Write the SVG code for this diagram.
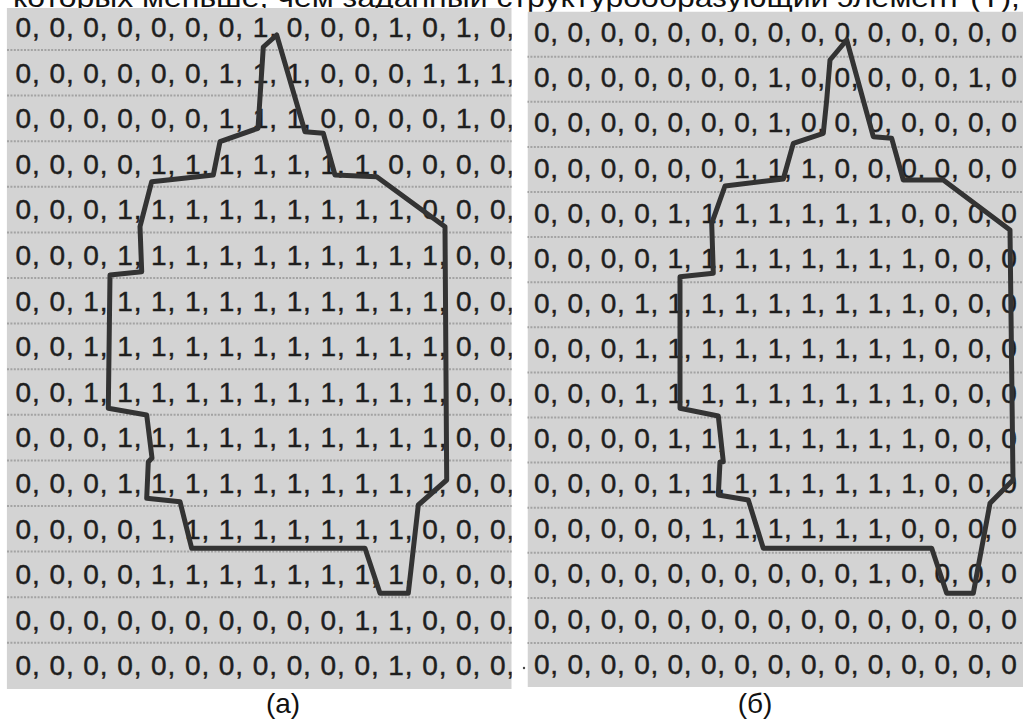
<svg xmlns="http://www.w3.org/2000/svg" width="1023" height="722" viewBox="0 0 1023 722">
<style>
.bg{fill:#d3d3d3}
.grid line{stroke:#a3a3a3;stroke-width:2;stroke-dasharray:2 1.4}
.num{font-family:"Liberation Sans",Arial,sans-serif;font-size:28px;fill:#1e1e1e;stroke:#1e1e1e;stroke-width:0.45}
.numL{letter-spacing:0.92px}
.numR{letter-spacing:0.75px}
.outline{fill:none;stroke:#333;stroke-width:5;stroke-linejoin:round;stroke-linecap:round}
.label{font-family:"Liberation Sans",Arial,sans-serif;font-size:28px;fill:#111}
</style>
<defs>
<clipPath id="clipL"><rect x="6.7" y="8" width="505" height="681"/></clipPath>
<clipPath id="clipR"><rect x="527.5" y="11.5" width="495.5" height="675.5"/></clipPath>
</defs>
<rect width="1023" height="722" fill="#fff"/>
<text class="label" x="13" y="7" textLength="1007" lengthAdjust="spacingAndGlyphs">которых меньше, чем заданный структурообразующий элемент (Т),</text>

<g id="panel-a" clip-path="url(#clipL)">
<rect class="bg" x="6.7" y="8" width="505" height="681"/>
<g class="grid">
<line x1="7" y1="50" x2="512" y2="50"/>
<line x1="7" y1="95.6" x2="512" y2="95.6"/>
<line x1="7" y1="141.2" x2="512" y2="141.2"/>
<line x1="7" y1="186.8" x2="512" y2="186.8"/>
<line x1="7" y1="232.4" x2="512" y2="232.4"/>
<line x1="7" y1="278" x2="512" y2="278"/>
<line x1="7" y1="323.6" x2="512" y2="323.6"/>
<line x1="7" y1="369.2" x2="512" y2="369.2"/>
<line x1="7" y1="414.8" x2="512" y2="414.8"/>
<line x1="7" y1="460.4" x2="512" y2="460.4"/>
<line x1="7" y1="506" x2="512" y2="506"/>
<line x1="7" y1="551.6" x2="512" y2="551.6"/>
<line x1="7" y1="597.2" x2="512" y2="597.2"/>
<line x1="7" y1="642.8" x2="512" y2="642.8"/>
</g>
<g class="num numL">
<text x="15.5" y="36.9">0, 0, 0, 0, 0, 0, 0, 1, 0, 0, 0, 1, 0, 1, 0, 0</text>
<text x="15.5" y="82.5">0, 0, 0, 0, 0, 0, 1, 1, 1, 0, 0, 0, 1, 1, 1, 0</text>
<text x="15.5" y="128.1">0, 0, 0, 0, 0, 0, 1, 1, 1, 0, 0, 0, 0, 1, 0, 0</text>
<text x="15.5" y="173.7">0, 0, 0, 0, 1, 1, 1, 1, 1, 1, 1, 0, 0, 0, 0, 0</text>
<text x="15.5" y="219.3">0, 0, 0, 1, 1, 1, 1, 1, 1, 1, 1, 1, 0, 0, 0, 0</text>
<text x="15.5" y="264.9">0, 0, 0, 1, 1, 1, 1, 1, 1, 1, 1, 1, 1, 0, 0, 0</text>
<text x="15.5" y="310.5">0, 0, 1, 1, 1, 1, 1, 1, 1, 1, 1, 1, 1, 0, 0, 0</text>
<text x="15.5" y="356.1">0, 0, 1, 1, 1, 1, 1, 1, 1, 1, 1, 1, 1, 0, 0, 0</text>
<text x="15.5" y="401.7">0, 0, 1, 1, 1, 1, 1, 1, 1, 1, 1, 1, 1, 0, 0, 0</text>
<text x="15.5" y="447.3">0, 0, 0, 1, 1, 1, 1, 1, 1, 1, 1, 1, 1, 0, 0, 0</text>
<text x="15.5" y="492.9">0, 0, 0, 1, 1, 1, 1, 1, 1, 1, 1, 1, 1, 0, 0, 0</text>
<text x="15.5" y="538.5">0, 0, 0, 0, 1, 1, 1, 1, 1, 1, 1, 1, 0, 0, 0, 0</text>
<text x="15.5" y="584.1">0, 0, 0, 0, 1, 1, 1, 1, 1, 1, 1, 1, 0, 0, 0, 0</text>
<text x="15.5" y="629.7">0, 0, 0, 0, 0, 0, 0, 0, 0, 0, 1, 1, 0, 0, 0, 0</text>
<text x="15.5" y="675.3">0, 0, 0, 0, 0, 0, 0, 0, 0, 0, 0, 1, 0, 0, 0, 0</text>
</g>
<polygon class="outline" points="276.7,35 305,131.7 323.3,133.3 335,175 376.7,176.7 445,226.7 446.7,480 418.3,505 408.3,593.3 380,593.3 365,548.3 191.7,548.3 180,501.7 146.7,498.3 148.3,462 152,458 146.7,415 108.3,408.3 110,275 141.7,271.7 140,226.7 151.7,181.7 213.3,175 220,141.7 258,128.3 263.3,47"/>
</g>

<g id="panel-b" clip-path="url(#clipR)">
<rect class="bg" x="527.5" y="11.5" width="495.5" height="675.5"/>
<g class="grid">
<line x1="527" y1="56.7" x2="1023" y2="56.7"/>
<line x1="527" y1="101.8" x2="1023" y2="101.8"/>
<line x1="527" y1="146.9" x2="1023" y2="146.9"/>
<line x1="527" y1="192" x2="1023" y2="192"/>
<line x1="527" y1="237.1" x2="1023" y2="237.1"/>
<line x1="527" y1="282.2" x2="1023" y2="282.2"/>
<line x1="527" y1="327.3" x2="1023" y2="327.3"/>
<line x1="527" y1="372.4" x2="1023" y2="372.4"/>
<line x1="527" y1="417.5" x2="1023" y2="417.5"/>
<line x1="527" y1="462.6" x2="1023" y2="462.6"/>
<line x1="527" y1="507.7" x2="1023" y2="507.7"/>
<line x1="527" y1="552.8" x2="1023" y2="552.8"/>
<line x1="527" y1="597.9" x2="1023" y2="597.9"/>
<line x1="527" y1="643" x2="1023" y2="643"/>
</g>
<g class="num numR">
<text x="534" y="42.2">0, 0, 0, 0, 0, 0, 0, 0, 0, 0, 0, 0, 0, 0, 0</text>
<text x="534" y="87.3">0, 0, 0, 0, 0, 0, 0, 1, 0, 0, 0, 0, 0, 1, 0</text>
<text x="534" y="132.4">0, 0, 0, 0, 0, 0, 0, 1, 0, 0, 0, 0, 0, 0, 0</text>
<text x="534" y="177.5">0, 0, 0, 0, 0, 0, 1, 1, 1, 0, 0, 0, 0, 0, 0</text>
<text x="534" y="222.6">0, 0, 0, 0, 1, 1, 1, 1, 1, 1, 1, 0, 0, 0, 0</text>
<text x="534" y="267.7">0, 0, 0, 0, 1, 1, 1, 1, 1, 1, 1, 1, 0, 0, 0</text>
<text x="534" y="312.8">0, 0, 0, 1, 1, 1, 1, 1, 1, 1, 1, 1, 0, 0, 0</text>
<text x="534" y="357.9">0, 0, 0, 1, 1, 1, 1, 1, 1, 1, 1, 1, 0, 0, 0</text>
<text x="534" y="403">0, 0, 0, 1, 1, 1, 1, 1, 1, 1, 1, 1, 0, 0, 0</text>
<text x="534" y="448.1">0, 0, 0, 0, 1, 1, 1, 1, 1, 1, 1, 1, 0, 0, 0</text>
<text x="534" y="493.2">0, 0, 0, 0, 1, 1, 1, 1, 1, 1, 1, 1, 0, 0, 0</text>
<text x="534" y="538.3">0, 0, 0, 0, 0, 1, 1, 1, 1, 1, 1, 0, 0, 0, 0</text>
<text x="534" y="583.4">0, 0, 0, 0, 0, 0, 0, 0, 0, 0, 1, 0, 0, 0, 0</text>
<text x="534" y="628.5">0, 0, 0, 0, 0, 0, 0, 0, 0, 0, 0, 0, 0, 0, 0</text>
<text x="534" y="673.6">0, 0, 0, 0, 0, 0, 0, 0, 0, 0, 0, 0, 0, 0, 0</text>
</g>
<polygon class="outline" points="846.7,40 873.3,136.7 891.7,138.3 903.3,180 943.3,180 1010,230 1013,480 990,503.3 973.3,593.3 946.7,593.3 931.7,548.3 763.3,548.3 748.3,500 718.3,495 720,462 723.3,461.7 718.3,416 680,408.3 680,276.7 713.3,273.3 711.7,223.3 725,186 783.3,179 793.3,143.3 823.3,133.3 826.7,100 830,60"/>
</g>
<circle cx="524" cy="668" r="1.2" fill="#444"/>

<g id="label-a"><text class="label" x="283" y="713" text-anchor="middle">(а)</text></g>
<g id="label-b"><text class="label" x="755" y="713" text-anchor="middle">(б)</text></g>
</svg>
